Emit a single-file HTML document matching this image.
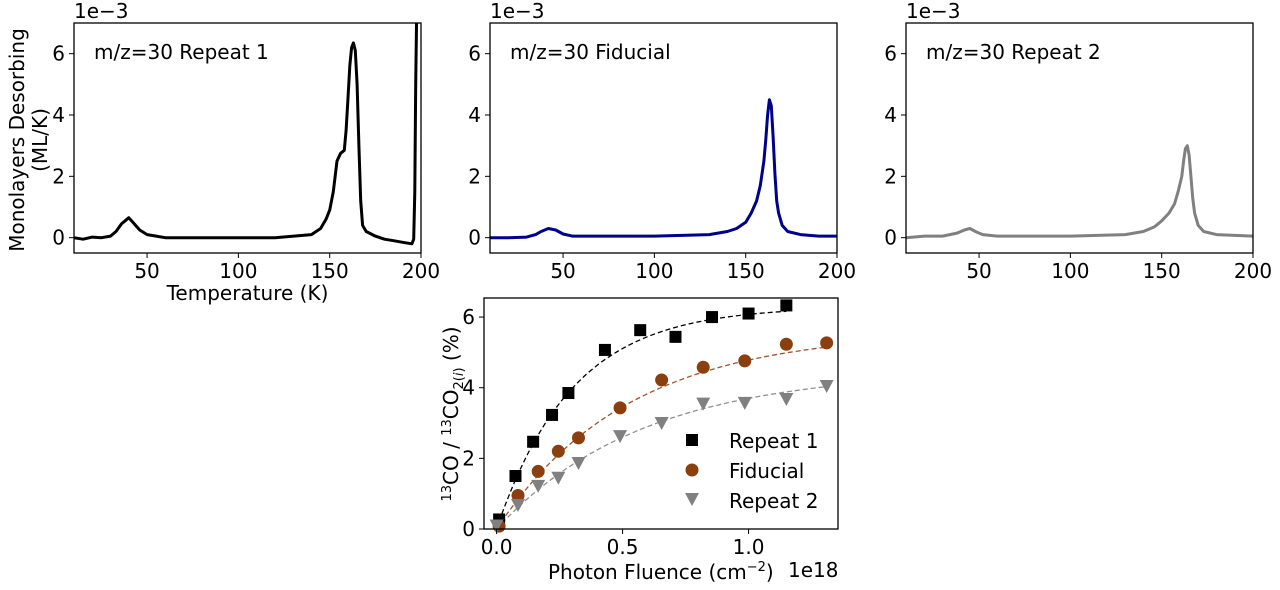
<!DOCTYPE html>
<html><head><meta charset="utf-8"><style>
body{margin:0;background:#fff;}
svg{display:block;font-family:"DejaVu Sans","Liberation Sans",sans-serif;}
</style></head><body>
<svg id="fig" width="1280" height="590" viewBox="0 0 1280 590"></svg>
<script>
// ---- TPD data (keypoints) ----
const tpdRep1T = [10,15,20,25,30,33,36,40,43,46,50,55,60,80,100,120,140,145,148,150,152,154,156,158,159,160,161,162,163,164,165,166,167,168,170,175,180,185,190,195,196,196.6,197.1,197.6];
const tpdRep1V = [0,-0.05,0.02,0,0.05,0.2,0.45,0.65,0.45,0.25,0.1,0.05,0,0,0,0,0.1,0.3,0.6,0.9,1.5,2.5,2.75,2.85,3.5,4.5,5.6,6.2,6.35,6.1,5.0,3.0,1.2,0.4,0.2,0.05,-0.05,-0.1,-0.15,-0.2,-0.05,1.5,5,7.2];
const tpdFidT = [10,20,30,35,38,42,46,50,55,70,100,130,140,145,150,153,156,158,160,161,162,163,164,165,166,167,168,170,173,180,190,200];
const tpdFidV = [0,0,0.02,0.1,0.2,0.3,0.25,0.12,0.05,0.05,0.05,0.1,0.2,0.3,0.5,0.8,1.2,1.7,2.5,3.2,4.0,4.5,4.3,3.3,2.1,1.2,0.8,0.4,0.2,0.1,0.05,0.05];
const tpdRep2T = [10,20,30,38,42,45,48,52,60,100,130,140,146,150,154,157,159,161,162,163,164,165,166,167,168,170,173,180,200];
const tpdRep2V = [0,0.05,0.05,0.15,0.25,0.3,0.2,0.1,0.05,0.05,0.1,0.2,0.35,0.55,0.8,1.1,1.5,2.0,2.5,2.9,3.0,2.7,2.0,1.3,0.8,0.4,0.2,0.1,0.05];
const tpdTicksX = [50,100,150,200];
const tpdTicksY = [0,2,4,6];
// ---- Fluence data ----
const fluRep1X = [0.01,0.075,0.145,0.22,0.285,0.43,0.57,0.71,0.855,1.0,1.15];
const fluRep1Y = [0.27,1.5,2.47,3.23,3.85,5.07,5.63,5.44,6.0,6.1,6.33];
const fluFidX = [0.01,0.085,0.165,0.245,0.325,0.49,0.655,0.82,0.985,1.15,1.31];
const fluFidY = [0.08,0.95,1.63,2.2,2.58,3.43,4.22,4.58,4.76,5.23,5.27];
const fluRep2X = [0.0,0.085,0.165,0.245,0.325,0.49,0.655,0.82,0.985,1.15,1.31];
const fluRep2Y = [0.1,0.68,1.22,1.45,1.87,2.63,3.0,3.55,3.57,3.68,4.05];
const fitAmp = [6.3,5.6,4.5];
const fitScale = [0.3,0.52,0.58];
const fitXmax = [1.15,1.31,1.31];
const fluTicksX = [0,0.5,1.0];
const fluTicksXLabels = ["0.0","0.5","1.0"];
const fluTicksY = [0,2,4,6];

const FS=20;
const NS="http://www.w3.org/2000/svg";
const svg=document.getElementById('fig');
function mk(tag,attrs,parent){const e=document.createElementNS(NS,tag);for(const k in attrs)e.setAttribute(k,attrs[k]);(parent||svg).appendChild(e);return e;}
function txt(s,x,y,size,anchor,parent){const t=mk('text',{x:x,y:y,'font-size':size,'text-anchor':anchor||'start',fill:'#000'},parent);t.textContent=s;return t;}

function tpdPanel(name,x0,x1,title,T,V,color,showLabels){
  const y0=23,y1=253;
  const g=mk('g',{});
  
  
  const sx=t=>x0+(t-10)/(200-10)*(x1-x0);
  const sy=v=>y1-(v+0.5)/(7+0.5)*(y1-y0);
  const cp=mk('clipPath',{id:'cp'+name},g);
  mk('rect',{x:x0,y:y0,width:x1-x0,height:y1-y0},cp);
  let d='';T.forEach((t,i)=>{d+=(i?'L':'M')+sx(t).toFixed(1)+','+sy(V[i]).toFixed(1);});
  const p=mk('path',{d:d,fill:'none',stroke:color,'stroke-width':3,'stroke-linejoin':'round','clip-path':'url(#cp'+name+')'},g);
  
  
  mk('rect',{x:x0,y:y0,width:x1-x0,height:y1-y0,fill:'none',stroke:'#000','stroke-width':1.3},g);
  tpdTicksX.forEach(t=>{const x=sx(t);mk('line',{x1:x,x2:x,y1:y1,y2:y1+5,stroke:'#000'},g);txt(String(t),x,y1+25,FS,'middle',g);});
  tpdTicksY.forEach(v=>{const y=sy(v);mk('line',{x1:x0-5,x2:x0,y1:y,y2:y,stroke:'#000'},g);txt(String(v),x0-9,y+7,FS,'end',g);});
  txt('1e\u22123',x0,18,FS,'start',g);
  const tt=txt(title,x0+20,59,FS,'start',g);
  
  
  if(showLabels){
    const xl=txt('Temperature (K)',(x0+x1)/2,300,FS,'middle',g);
    
    
    const yl=mk('text',{transform:'translate(24,140) rotate(-90)','font-size':FS,'text-anchor':'middle'},g);
    yl.textContent='Monolayers Desorbing';
    
    
    const yl2=mk('text',{transform:'translate(47,140) rotate(-90)','font-size':FS,'text-anchor':'middle'},g);
    yl2.textContent='(ML/K)';
  }
}
tpdPanel('repeat1-panel',74,421,'m/z=30 Repeat 1',tpdRep1T,tpdRep1V,'#000',true);
tpdPanel('fiducial-panel',490,837,'m/z=30 Fiducial',tpdFidT,tpdFidV,'#00008b',false);
tpdPanel('repeat2-panel',906,1253,'m/z=30 Repeat 2',tpdRep2T,tpdRep2V,'#808080',false);

// fluence panel
(function(){
  const x0=484,x1=838,y0=298,y1=529;
  const g=mk('g',{});
  
  
  const sx=v=>x0+(v+0.05)/(1.355+0.05)*(x1-x0);
  const sy=v=>y1-v/6.54*(y1-y0);
  const colors=['#000','#8b3f0f','#808080'];
  const fitColors=['#000','#a0522d','#909090'];
  for(let s=0;s<3;s++){
    let d='';for(let i=0;i<=80;i++){const xv=fitXmax[s]*i/80;const yv=fitAmp[s]*(1-Math.exp(-xv/fitScale[s]));d+=(i?'L':'M')+sx(xv).toFixed(1)+','+sy(yv).toFixed(1);}
    const p=mk('path',{d:d,fill:'none',stroke:fitColors[s],'stroke-width':1.3,'stroke-dasharray':'5,3'},g);
    
    
  }
  fluRep1X.forEach((x,i)=>{const r=mk('rect',{x:sx(x)-6,y:sy(fluRep1Y[i])-6,width:12,height:12,fill:colors[0]},g);
    
    });
  fluFidX.forEach((x,i)=>{const c=mk('circle',{cx:sx(x),cy:sy(fluFidY[i]),r:6.5,fill:colors[1]},g);
    
    });
  const tri=(cx,cy)=>`${cx-7},${cy-6} ${cx+7},${cy-6} ${cx},${cy+7}`;
  fluRep2X.forEach((x,i)=>{const t=mk('polygon',{points:tri(sx(x),sy(fluRep2Y[i])),fill:colors[2]},g);
    
    });
  mk('rect',{x:x0,y:y0,width:x1-x0,height:y1-y0,fill:'none',stroke:'#000','stroke-width':1.3},g);
  fluTicksX.forEach((t,i)=>{const x=sx(t);mk('line',{x1:x,x2:x,y1:y1,y2:y1+5,stroke:'#000'},g);txt(fluTicksXLabels[i],x,y1+25,FS,'middle',g);});
  fluTicksY.forEach(v=>{const y=sy(v);mk('line',{x1:x0-5,x2:x0,y1:y,y2:y,stroke:'#000'},g);txt(String(v),x0-9,y+7,FS,'end',g);});
  const xl=mk('text',{x:548,y:579,'font-size':FS},g);
  xl.innerHTML='Photon Fluence (cm<tspan dy="-8" font-size="13">\u22122</tspan><tspan dy="8">)</tspan>';
  
  
  txt('1e18',788,577,FS,'start',g);
  const yl=mk('text',{transform:'translate(458,414) rotate(-90)','font-size':FS,'text-anchor':'middle'},g);
  yl.innerHTML='<tspan dy="-7" font-size="13">13</tspan><tspan dy="7">CO / </tspan><tspan dy="-7" font-size="13">13</tspan><tspan dy="7">CO</tspan><tspan dy="5" font-size="13">2(</tspan><tspan font-size="13" font-style="italic">i</tspan><tspan font-size="13">)</tspan><tspan dy="-5"> (%)</tspan>';
  
  
  // legend
  const lg=mk('g',{},g);
  
  
  mk('rect',{x:686,y:434,width:12,height:12,fill:colors[0]},lg);
  txt('Repeat 1',729,448,FS,'start',lg);
  mk('circle',{cx:692,cy:470,r:6.5,fill:colors[1]},lg);
  txt('Fiducial',729,478,FS,'start',lg);
  mk('polygon',{points:tri(692,499),fill:colors[2]},lg);
  txt('Repeat 2',729,508,FS,'start',lg);
})();
</script>
</body></html>
